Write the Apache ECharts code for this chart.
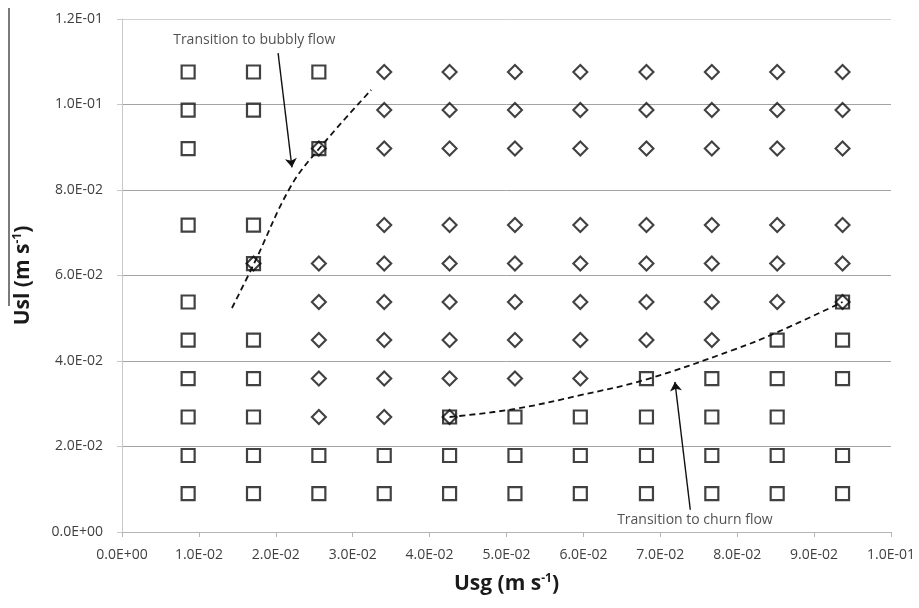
<!DOCTYPE html>
<html>
<head>
<meta charset="utf-8">
<script src="https://cdn.jsdelivr.net/npm/echarts@6/dist/echarts.min.js"></script>
<style>
html,body{margin:0;padding:0;background:#fff;}
#chart{width:919px;height:608px;}
</style>
</head>
<body>
<div id="chart"></div>
<script>
// Superficial gas velocities of the grid columns (m/s)
var usg = [0.0086, 0.0171, 0.0256, 0.0341, 0.0426, 0.0511, 0.0596, 0.0682, 0.0767, 0.0852, 0.0937];
// Superficial liquid velocities of the grid rows (m/s), top to bottom
var usl = [0.1076, 0.0987, 0.0897, 0.0718, 0.0628, 0.0538, 0.0449, 0.0359, 0.0269, 0.0179, 0.0090];
// Observed regime per row: S = square, D = diamond, B = both, . = none
var regimeRows = [
  "SSSDDDDDDDD",
  "SS.DDDDDDDD",
  "S.BDDDDDDDD",
  "SS.DDDDDDDD",
  ".BDDDDDDDDD",
  "S.DDDDDDDDB",
  "SSDDDDDDDSS",
  "SSDDDDDSSSS",
  "SSDDBSSSSS.",
  "SSSSSSSSSSS",
  "SSSSSSSSSSS"
];
// Transition curves
var bubblyX = [0.0143, 0.0172, 0.0219, 0.0256, 0.0324];
var bubblyY = [0.0524, 0.0629, 0.0807, 0.0896, 0.1034];
var churnX = [0.0426, 0.0511, 0.0596, 0.0680, 0.0795, 0.0853, 0.0937];
var churnY = [0.0269, 0.0288, 0.0320, 0.0356, 0.0426, 0.0468, 0.0538];
// Annotation arrows [fromX, fromY, toX, toY]
var bubblyArrow = [0.0203, 0.1120, 0.0221, 0.0853];
var churnArrow = [0.0739, 0.0052, 0.0719, 0.0351];
// Annotation labels
var bubblyLabel = {text: "Transition to bubbly flow", x: 0.0172, y: 0.1151};
var churnLabel = {text: "Transition to churn flow", x: 0.0745, y: 0.0028};
var xTicks = {min: 0, max: 0.1, interval: 0.01};
var yTicks = {min: 0, max: 0.12, interval: 0.02};

var squares = [], diamonds = [];
regimeRows.forEach(function (row, r) {
  for (var c = 0; c < row.length; c++) {
    var ch = row[c];
    if (ch === 'S' || ch === 'B') squares.push([usg[c], usl[r]]);
    if (ch === 'D' || ch === 'B') diamonds.push([usg[c], usl[r]]);
  }
});
function zip(a, b) { return a.map(function (v, i) { return [v, b[i]]; }); }

function sci(v) {
  if (Math.abs(v) < 1e-12) return '0.0E+00';
  var e = Math.floor(Math.log10(Math.abs(v)) + 1e-9);
  var m = v / Math.pow(10, e);
  if (m >= 9.95) { m /= 10; e += 1; }
  var es = (e < 0 ? '-' : '+') + (Math.abs(e) < 10 ? '0' : '') + Math.abs(e);
  return m.toFixed(1) + 'E' + es;
}

var FONT = 'Open Sans';
var ink = '#111';
var chart = echarts.init(document.getElementById('chart'), null, {renderer: 'canvas'});
var titleRich = {
  b: {fontFamily: FONT, fontWeight: 'bold', fontSize: 21, color: '#1a1a1a'},
  sup: {fontFamily: FONT, fontWeight: 'bold', fontSize: 12, color: '#1a1a1a', padding: [0, 0, 11, 0]}
};
chart.setOption({
  animation: false,
  backgroundColor: '#fff',
  grid: {left: 122, right: 28, top: 19, bottom: 76, containLabel: false},
  xAxis: {
    type: 'value', min: xTicks.min, max: xTicks.max, interval: xTicks.interval,
    name: '{b|Usg (m s}{sup|-1}{b|)}', nameLocation: 'middle', nameGap: 41,
    nameTextStyle: {rich: titleRich},
    axisLine: {show: true, lineStyle: {color: '#b5b5b5', width: 1}},
    axisTick: {show: true, length: 5, lineStyle: {color: '#b5b5b5'}},
    axisLabel: {formatter: sci, fontFamily: FONT, fontSize: 14, color: '#404040', margin: 16},
    splitLine: {show: false}
  },
  yAxis: {
    type: 'value', min: yTicks.min, max: yTicks.max, interval: yTicks.interval,
    name: '{b|Usl (m s}{sup|-1}{b|)}', nameLocation: 'middle', nameGap: 87, nameRotate: 90,
    nameTextStyle: {rich: titleRich},
    axisLine: {show: true, lineStyle: {color: '#c8c8c8', width: 1}},
    axisTick: {show: true, length: 5, lineStyle: {color: '#c8c8c8'}},
    axisLabel: {formatter: sci, fontFamily: FONT, fontSize: 14, color: '#404040', margin: 19},
    splitLine: {show: true, lineStyle: {color: ['#b5b5b5', '#a3a3a3', '#a3a3a3', '#a3a3a3', '#a3a3a3', '#a3a3a3', '#d0d0d0'], width: 1}}
  },
  graphic: [{
    type: 'line', shape: {x1: 9, y1: 8, x2: 9, y2: 306},
    style: {stroke: '#7a7a7a', lineWidth: 2}
  }],
  series: [
    {
      type: 'line', data: zip(bubblyX, bubblyY), smooth: 0.4, symbol: 'none', silent: true,
      lineStyle: {color: ink, width: 1.8, type: [6, 4]}, z: 3
    },
    {
      type: 'line', data: zip(churnX, churnY), smooth: 0.4, symbol: 'none', silent: true,
      lineStyle: {color: ink, width: 1.8, type: [6, 4]}, z: 3
    },
    {
      type: 'scatter', data: squares, symbol: 'rect', symbolSize: 13, silent: true,
      itemStyle: {color: 'rgba(0,0,0,0)', borderColor: ink, borderWidth: 2.2}, z: 4
    },
    {
      type: 'scatter', data: diamonds, symbol: 'diamond', symbolSize: 14, silent: true,
      itemStyle: {color: 'rgba(0,0,0,0)', borderColor: ink, borderWidth: 2.1}, z: 5
    },
    {
      type: 'scatter', symbolSize: 0, silent: true, z: 6,
      data: [
        {name: bubblyLabel.text, value: [bubblyLabel.x, bubblyLabel.y]},
        {name: churnLabel.text, value: [churnLabel.x, churnLabel.y]}
      ],
      label: {show: true, position: 'inside', formatter: '{b}', fontFamily: FONT, fontSize: 14, color: '#262626'},
      markLine: {
        silent: true, symbol: ['none', 'arrow'], symbolSize: 9, animation: false,
        label: {show: false},
        lineStyle: {color: ink, width: 1.4, type: 'solid'},
        emphasis: {disabled: true},
        data: [
          [{coord: [bubblyArrow[0], bubblyArrow[1]]}, {coord: [bubblyArrow[2], bubblyArrow[3]]}],
          [{coord: [churnArrow[0], churnArrow[1]]}, {coord: [churnArrow[2], churnArrow[3]]}]
        ]
      }
    }
  ]
});
</script>
</body>
</html>
